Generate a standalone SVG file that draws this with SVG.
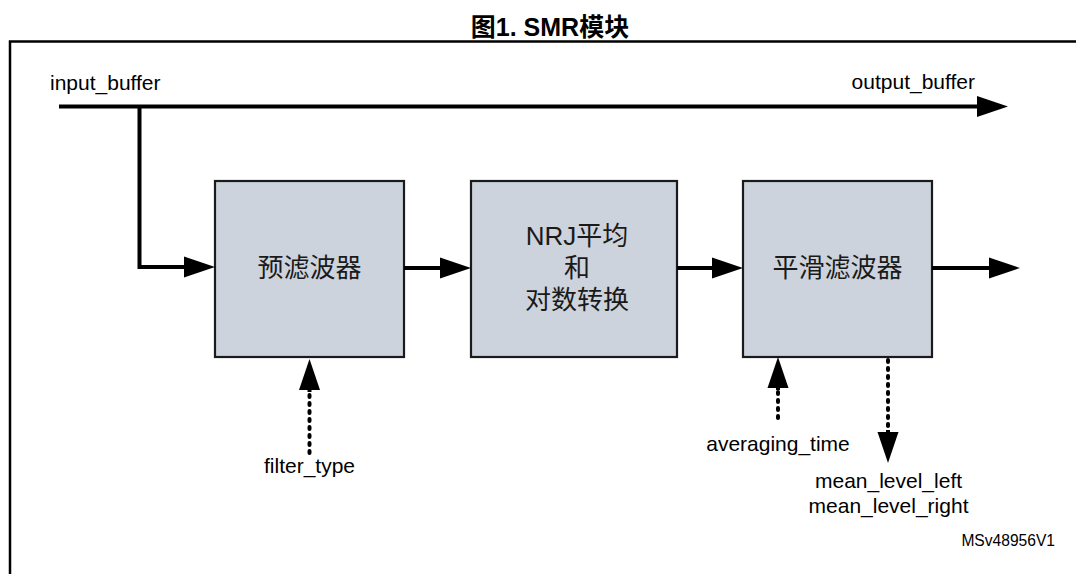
<svg xmlns="http://www.w3.org/2000/svg" width="1076" height="574" viewBox="0 0 1076 574">
  <style>
    .lbl { font-family: "Liberation Sans", "Noto Sans CJK SC", sans-serif; font-size: 21px; fill: #000; }
    .title { font-family: "Liberation Sans", "Noto Sans CJK SC", sans-serif; font-size: 25px; font-weight: bold; fill: #000; }
    .box { fill: #cdd3dc; stroke: #1a1a1a; stroke-width: 2.2; }
    .boxtxt { font-family: "Liberation Sans", "Noto Sans CJK SC", sans-serif; font-size: 26px; fill: #1a1a1a; text-anchor: middle; }
    .wire { fill: none; stroke: #000; stroke-width: 4; }
    .dots { fill: none; stroke: #000; stroke-width: 4; stroke-linecap: round; stroke-dasharray: 2 6; }
    .frame { fill: none; stroke: #000; stroke-width: 2.5; }
  </style>
  <defs>
    <marker id="head" markerUnits="userSpaceOnUse" markerWidth="32" markerHeight="22" refX="0" refY="11" orient="auto" overflow="visible">
      <path d="M0,0.5 L31,11 L0,21.5 Z" fill="#000"/>
    </marker>
  </defs>

  <rect width="1076" height="574" fill="#fff"/>

  <!-- figure title and frame -->
  <text class="title" x="550" y="36" text-anchor="middle">图1. SMR模块</text>
  <path class="frame" d="M10,574 V41.5 H1076"/>

  <!-- buffer labels -->
  <text class="lbl" x="50" y="90">input_buffer</text>
  <text class="lbl" x="975" y="89" text-anchor="end">output_buffer</text>

  <!-- processing blocks -->
  <g id="prefilter">
    <rect class="box" x="215" y="181" width="189" height="176"/>
    <text class="boxtxt" x="309.5" y="277">预滤波器</text>
  </g>
  <g id="nrj-average">
    <rect class="box" x="471" y="181" width="206" height="176"/>
    <text class="boxtxt" x="577" y="245">NRJ平均</text>
    <text class="boxtxt" x="577" y="277">和</text>
    <text class="boxtxt" x="577" y="309">对数转换</text>
  </g>
  <g id="smooth-filter">
    <rect class="box" x="743" y="181" width="189" height="176"/>
    <text class="boxtxt" x="837.5" y="277">平滑滤波器</text>
  </g>

  <!-- parameter labels -->
  <text class="lbl" x="309.5" y="473" text-anchor="middle">filter_type</text>
  <text class="lbl" x="778" y="451" text-anchor="middle">averaging_time</text>
  <text class="lbl" x="888.5" y="488" text-anchor="middle">mean_level_left</text>
  <text class="lbl" x="888.5" y="513" text-anchor="middle">mean_level_right</text>
  <text class="lbl" x="1055" y="546" text-anchor="end" style="font-size:15.6px">MSv48956V1</text>

  <!-- connectors -->
  <g id="connectors">
    <path class="wire" d="M59,106.5 H977" marker-end="url(#head)"/>
    <path class="wire" d="M139.5,106.5 V267 H184" marker-end="url(#head)"/>
    <path class="wire" d="M404,268 H440" marker-end="url(#head)"/>
    <path class="wire" d="M677,268 H712" marker-end="url(#head)"/>
    <path class="wire" d="M932,268 H989" marker-end="url(#head)"/>
    <path class="dots" d="M309.5,453 V392"/>
    <path class="wire" d="M309.5,392 V390" marker-end="url(#head)"/>
    <path class="dots" d="M778,418 V390"/>
    <path class="wire" d="M778,390 V388" marker-end="url(#head)"/>
    <path class="dots" d="M888,360 V430"/>
    <path class="wire" d="M888,430 V432" marker-end="url(#head)"/>
  </g>
</svg>
